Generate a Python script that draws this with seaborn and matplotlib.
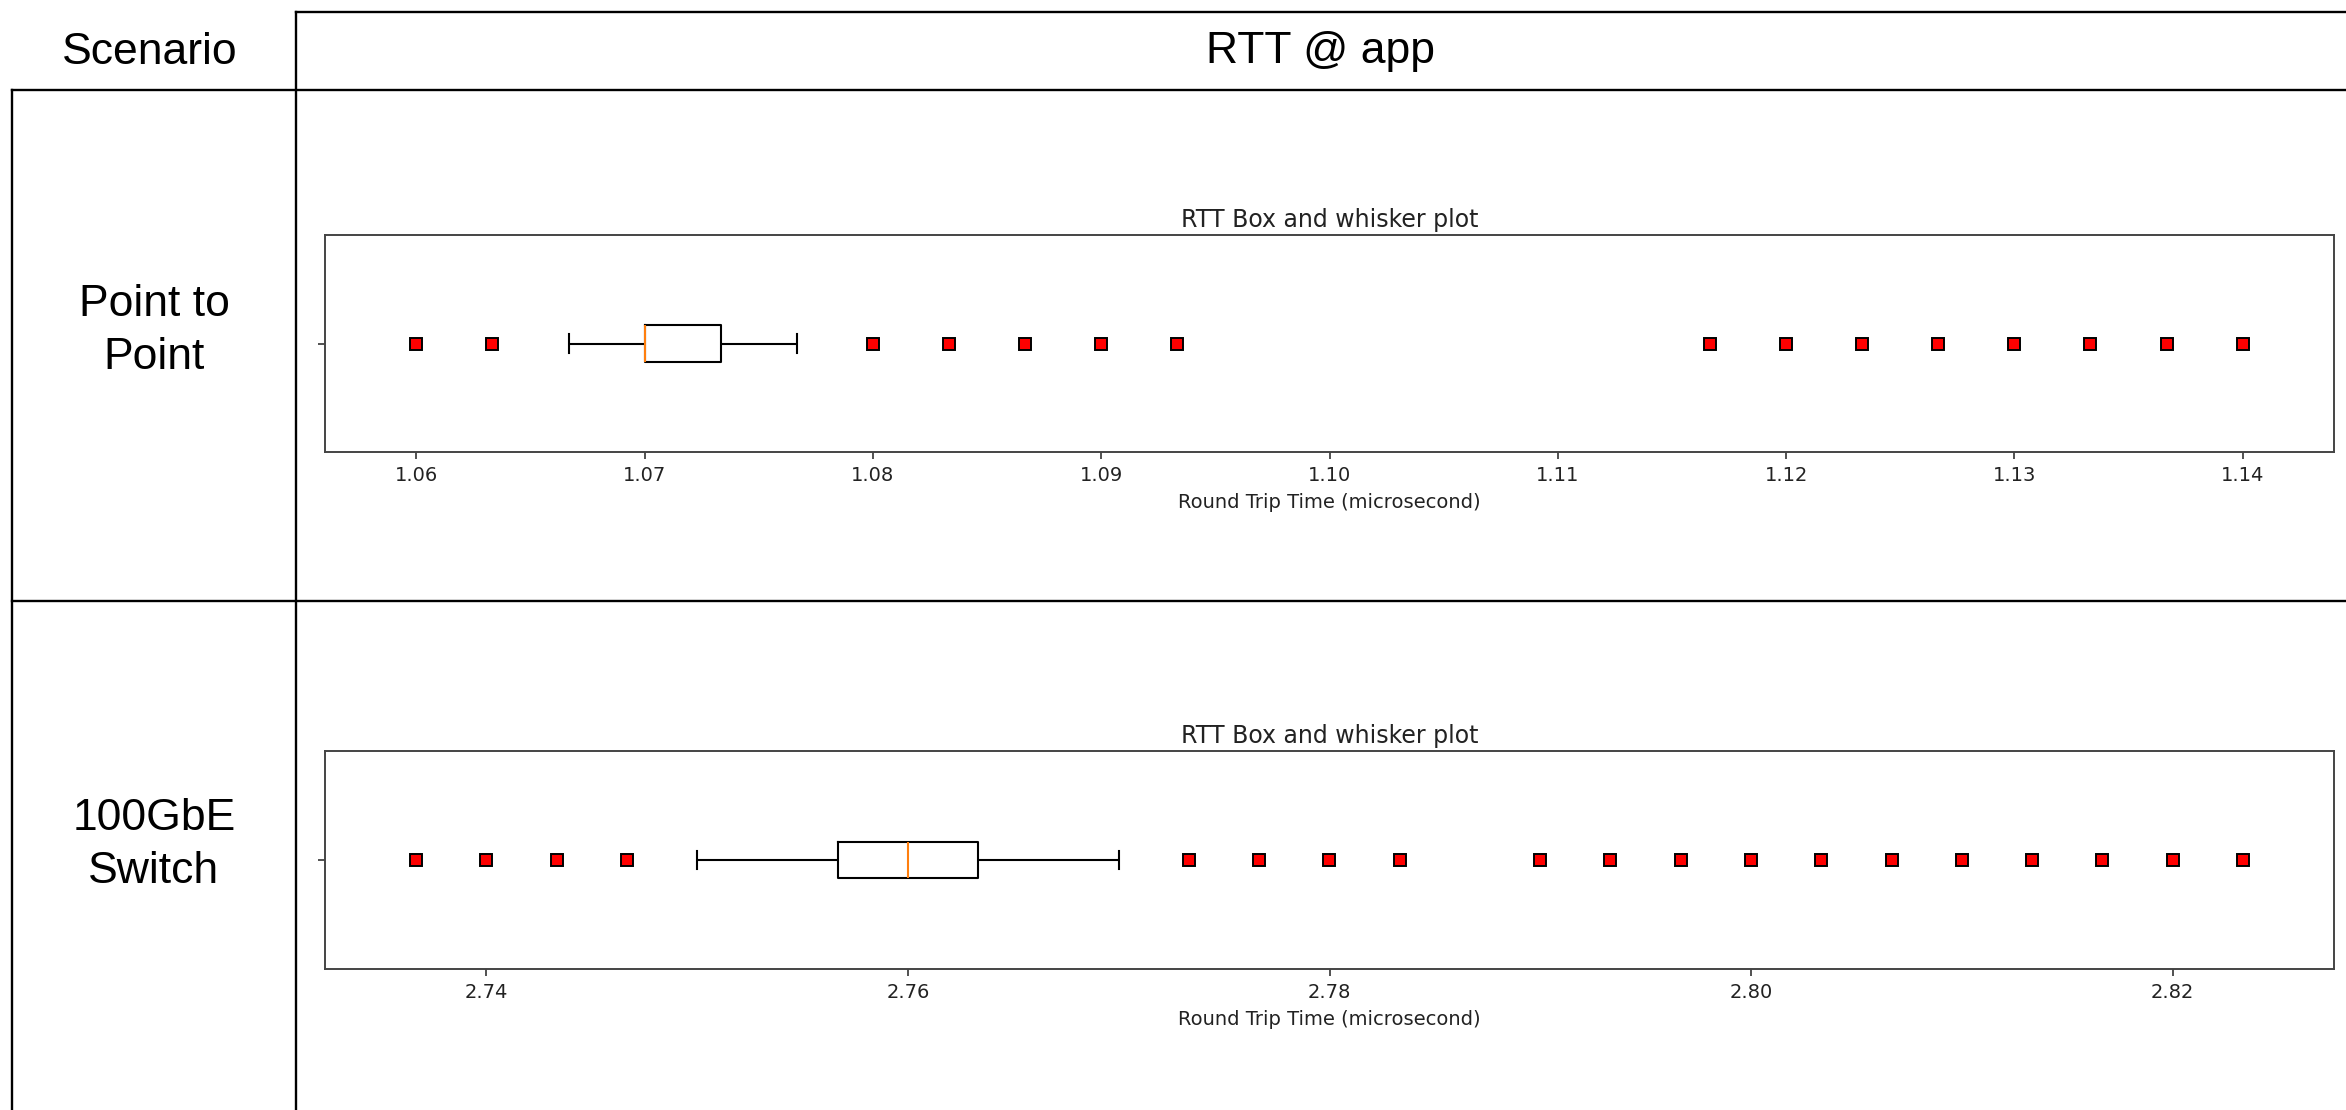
import numpy as np
import pandas as pd
import matplotlib
matplotlib.use("Agg")
import matplotlib.pyplot as plt
from matplotlib.lines import Line2D
import seaborn as sns

p2p_rtt = [1.06, 1.06333, 1.06667, 1.07, 1.07333, 1.07667, 1.08, 1.08333, 1.08667,
           1.09, 1.09333, 1.11667, 1.12, 1.12333, 1.12667, 1.13, 1.13333, 1.13667, 1.14]
p2p_count = [1, 1, 5, 50, 30, 5, 1, 1, 1, 1, 1, 1, 1, 1, 1, 1, 1, 1, 1]

switch_rtt = [2.73667, 2.74, 2.74333, 2.74667, 2.75, 2.75333, 2.75667, 2.76, 2.76333,
              2.76667, 2.77, 2.77333, 2.77667, 2.78, 2.78333, 2.79, 2.79333, 2.79667,
              2.80, 2.80333, 2.80667, 2.81, 2.81333, 2.81667, 2.82, 2.82333]
switch_count = [1, 1, 1, 1, 3, 5, 30, 40, 30, 5, 3, 1, 1, 1, 1,
                1, 1, 1, 1, 1, 1, 1, 1, 1, 1, 1]

scenarios = ["Point to\nPoint", "100GbE\nSwitch"]
header = ["Scenario", "RTT @ app"]
plot_title = "RTT Box and whisker plot"
x_label = "Round Trip Time (microsecond)"

W, H = 2346, 1110
fig = plt.figure(figsize=(W / 100, H / 100), dpi=100)


def fx(px):
    return px / W


def fy(py):
    return 1 - py / H


# table grid
table_lines = [
    ((296, 12), (W, 12)),
    ((12, 90), (W, 90)),
    ((12, 601), (W, 601)),
    ((12, 90), (12, H)),
    ((296, 12), (296, H)),
]
for (x0, y0), (x1, y1) in table_lines:
    fig.add_artist(Line2D([fx(x0), fx(x1)], [fy(y0), fy(y1)], transform=fig.transFigure,
                          color="black", lw=1.7, solid_capstyle="projecting"))

cell_font = dict(ha="center", va="center", fontsize=32, family="Liberation Sans",
                 color="black", linespacing=1.38)
fig.text(fx(150), fy(52), header[0], **cell_font)
fig.text(fx(1321), fy(52), header[1], **cell_font)
fig.text(fx(154), fy(331), scenarios[0], **cell_font)
fig.text(fx(154), fy(845), scenarios[1], **cell_font)

# box plots
datasets = [
    pd.DataFrame({"rtt": np.repeat(p2p_rtt, p2p_count)}),
    pd.DataFrame({"rtt": np.repeat(switch_rtt, switch_count)}),
]
ax_boxes = [(325, 235, 2334, 452), (325, 751, 2334, 969)]

for df, (l, t, r, b) in zip(datasets, ax_boxes):
    ax = fig.add_axes([fx(l), fy(b), fx(r - l), (b - t) / H])
    sns.boxplot(data=df, x="rtt", ax=ax, orient="h", width=0.166, whis=1.5,
                fill=False, color="black", linewidth=1.5,
                medianprops=dict(color="#ff7f0e", linewidth=1.5),
                flierprops=dict(marker="s", markersize=9, markerfacecolor="red",
                                markeredgecolor="black", markeredgewidth=1.4))
    ax.set_ylim(0.5, -0.5)
    ax.set_yticks([0])
    ax.set_yticklabels([""])
    ax.set_title(plot_title, fontsize=17, color="#222222", pad=6)
    ax.set_xlabel(x_label, fontsize=14, color="#222222", labelpad=5.5)
    ax.set_ylabel("")
    ax.tick_params(axis="both", labelsize=14, colors="#333333", labelcolor="#222222",
                   length=5, width=1.2, pad=5)
    for sp in ax.spines.values():
        sp.set_color("#444444")
        sp.set_linewidth(1.4)

fig.savefig("out.png", dpi=100, facecolor="white")
